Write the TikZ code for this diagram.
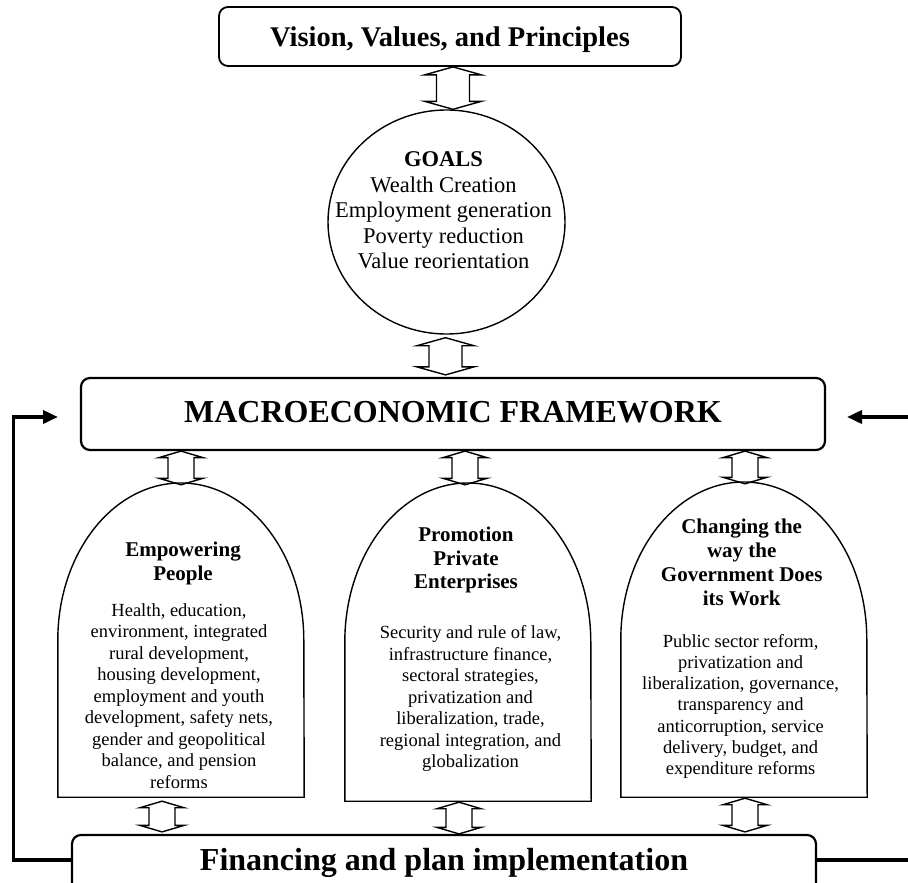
\documentclass[tikz,border=0pt]{standalone}
\usepackage{fontspec}
\setmainfont{Liberation Serif}
\usetikzlibrary{arrows.meta,shapes.geometric,calc}
\newcommand\mlines[1]{\begin{tabular}[t]{@{}c@{}}#1\end{tabular}}
\begin{document}
\begin{tikzpicture}[x=1pt,y=-1pt,
  box/.style={draw, rounded corners=9pt, inner xsep=0pt, inner ysep=0pt, line width=1.8pt},
  archline/.style={draw, line width=1.4pt},
  archbox/.style={inner sep=0pt, minimum width=246pt},
  txt/.style={anchor=base, inner sep=0pt},
  fb/.style={line width=3.6pt},
  fbhead/.style={-{Triangle[length=15pt,width=13pt]}},
  dbl/.style n args={3}{line width=1.4pt, line join=miter, to path={
    let \p1=(\tikztostart), \p2=(\tikztotarget) in
    (\x1,\y1) -- (\x1+#1,\y1-#3) -- (\x1+#2,\y1-#3) -- (\x1+#2,\y2+#3) -- (\x1+#1,\y2+#3)
    -- (\x1,\y2) -- (\x1-#1,\y2+#3) -- (\x1-#2,\y2+#3) -- (\x1-#2,\y1-#3) -- (\x1-#1,\y1-#3) -- cycle}},
  bigdbl/.style={dbl={28.5pt}{16.5pt}{8pt}},
  smalldbl/.style={dbl={22pt}{13pt}{6.5pt}}
]
\useasboundingbox (0,0) rectangle (908,883);
\clip (0,0) rectangle (908,883);

% top box
\node[box, minimum width=462pt, minimum height=59pt, text height=40pt, text depth=19pt,
  font=\fontsize{28.5}{34}\selectfont\bfseries] (vision) at (450,36.5) {Vision, Values, and Principles};

% goals ellipse
\node[draw, ellipse, line width=1.4pt, minimum width=237pt, minimum height=224pt, inner sep=0pt] (goals) at (446.5,222) {};
\node[txt, font=\fontsize{22.5}{25.6}\selectfont] (goalstxt) at (443.5,166.5)
  {\mlines{\textbf{GOALS}\\Wealth Creation\\Employment generation\\Poverty reduction\\Value reorientation}};

% macro box
\node[box, line width=2.2pt, minimum width=744pt, minimum height=72pt, text height=44pt, text depth=28pt,
  font=\fontsize{32}{38}\selectfont\bfseries] (macro) at (453,414) {MACROECONOMIC FRAMEWORK};

% arches
\node[archbox, minimum height=314pt] (arch1) at (181,640) {};
\node[archbox, minimum height=318pt] (arch2) at (468,642) {};
\node[archbox, minimum height=315pt] (arch3) at (744,639.5) {};
\draw[archline] (arch1.south west) -- (arch1.west) arc[start angle=180, end angle=0, x radius=123pt, y radius=157pt] -- (arch1.south east) -- cycle;
\draw[archline] (arch2.south west) -- (arch2.west) arc[start angle=180, end angle=0, x radius=123pt, y radius=159pt] -- (arch2.south east) -- cycle;
\draw[archline] (arch3.south west) -- (arch3.west) arc[start angle=180, end angle=0, x radius=123pt, y radius=157.5pt] -- (arch3.south east) -- cycle;

% arch texts
\node[txt, font=\fontsize{21}{24}\selectfont\bfseries] (h1) at (183,556) {\mlines{Empowering\\People}};
\node[txt, font=\fontsize{18.5}{21.5}\selectfont] (b1) at (179,616)
  {\mlines{Health, education,\\environment, integrated\\rural development,\\housing development,\\employment and youth\\development, safety nets,\\gender and geopolitical\\balance, and pension\\reforms}};
\node[txt, font=\fontsize{21}{23.7}\selectfont\bfseries] (h2) at (466,541.5) {\mlines{Promotion\\Private\\Enterprises}};
\node[txt, font=\fontsize{18.5}{21.5}\selectfont] (b2) at (470.5,638.5)
  {\mlines{Security and rule of law,\\infrastructure finance,\\sectoral strategies,\\privatization and\\liberalization, trade,\\regional integration, and\\globalization}};
\node[txt, font=\fontsize{21}{24}\selectfont\bfseries] (h3) at (741.7,533) {\mlines{Changing the\\way the\\Government Does\\its Work}};
\node[txt, font=\fontsize{18.5}{21.3}\selectfont] (b3) at (740.6,647)
  {\mlines{Public sector reform,\\privatization and\\liberalization, governance,\\transparency and\\anticorruption, service\\delivery, budget, and\\expenditure reforms}};

% bottom box
\node[box, line width=2.2pt, minimum width=744pt, minimum height=72pt, text height=35pt, text depth=37pt,
  font=\fontsize{32}{38}\selectfont\bfseries] (fin) at (444,871) {Financing and plan implementation};

% double arrows
\draw[bigdbl] ([xshift=3pt]vision.south) to (goals.north);
\draw[bigdbl] ([xshift=-1pt,yshift=-3pt]goals.south) to ([yshift=2pt]macro.north);
\draw[smalldbl] (macro.south -| arch1.north) to ([yshift=-2pt]arch1.north);
\draw[smalldbl] ([xshift=-3pt]macro.south -| arch2.north) to ([xshift=-3pt,yshift=-2pt]arch2.north);
\draw[smalldbl] ([xshift=1pt]macro.south -| arch3.north) to ([yshift=-2pt]arch3.north);
\draw[smalldbl] ([xshift=-19pt,yshift=-4pt]arch1.south) to ([yshift=2pt]fin.north);
\draw[smalldbl] ([xshift=-9pt,yshift=-1pt]arch2.south) to (fin.north);
\draw[smalldbl] ([xshift=1pt,yshift=-1pt]arch3.south) to ([yshift=2pt]fin.north);

% feedback lines
\coordinate (lc1) at (13.5,860);
\coordinate (lc2) at (13.5,417);
\coordinate (ltip) at (58,417);
\coordinate (rend) at (912,417);
\coordinate (rtip) at (847,417);
\coordinate (rb) at (912,860);
\draw[fb, fbhead] (fin.west |- lc1) -- (lc1) -- (lc2) -- (ltip);
\draw[fb, fbhead] (rend) -- (rtip);
\draw[fb] (fin.east |- rb) -- (rb);
\end{tikzpicture}
\end{document}
